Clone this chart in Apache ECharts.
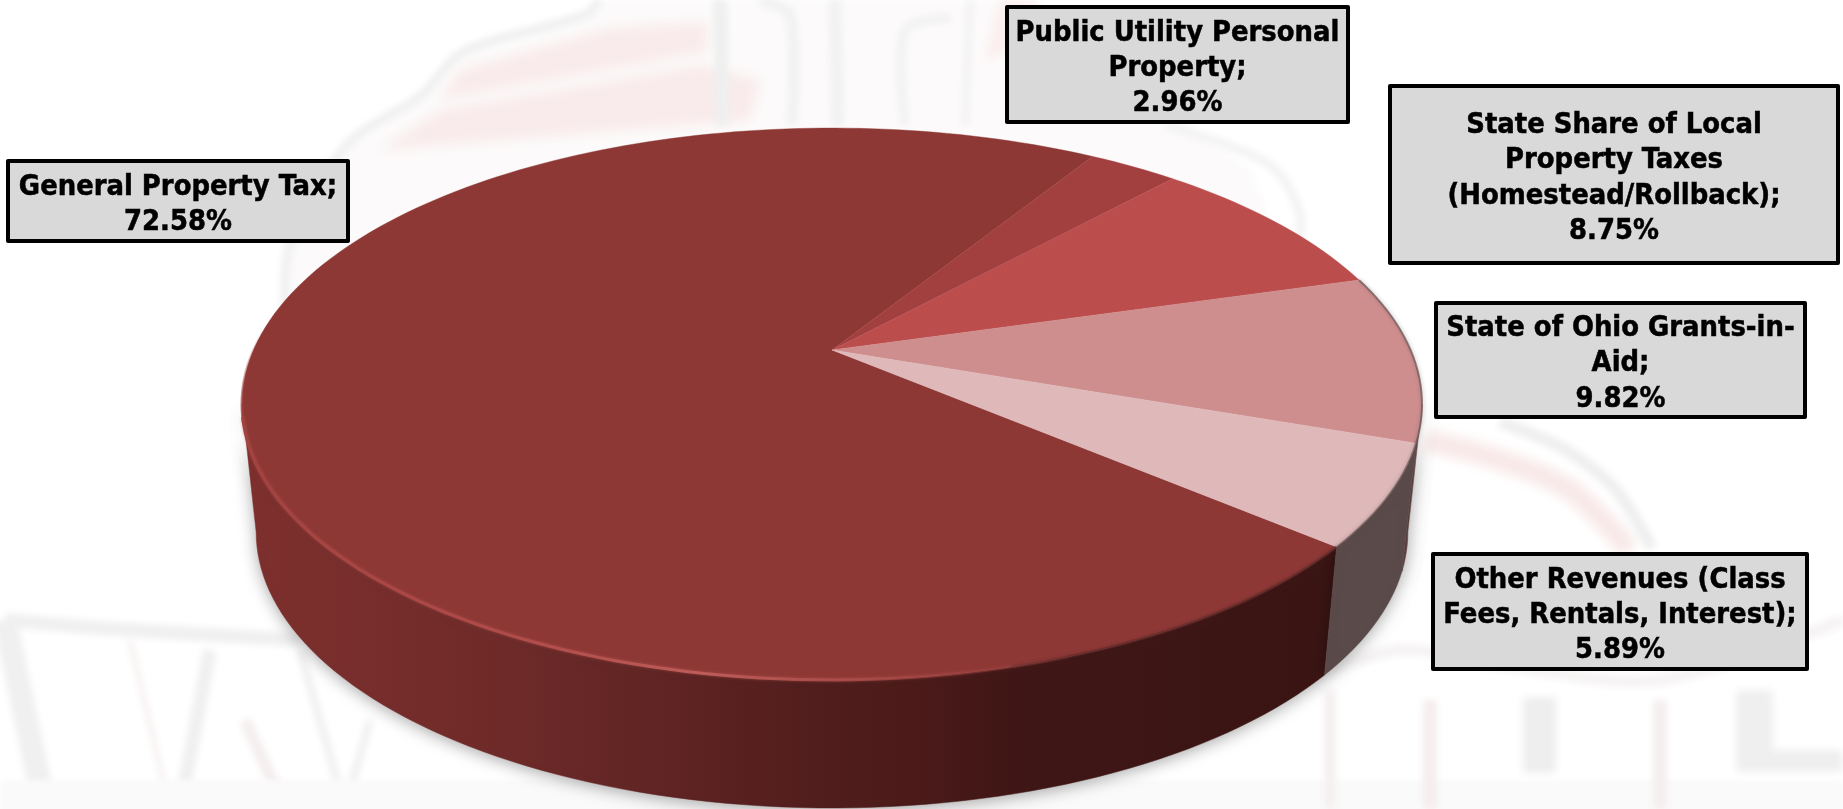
<!DOCTYPE html>
<html>
<head>
<meta charset="utf-8">
<style>html,body{margin:0;padding:0;background:#fff}#c{width:1843px;height:809px}</style>
<script src="https://cdn.jsdelivr.net/npm/echarts@6/dist/echarts.min.js"></script>
</head>
<body>
<div id="c"></div>
<script>
// ---- data ----
const categories = ['General Property Tax', 'Public Utility Personal Property', 'State Share of Local Property Taxes (Homestead/Rollback)', 'State of Ohio Grants-in-Aid', 'Other Revenues (Class Fees, Rentals, Interest)'];
const sharePercent = [72.58, 2.96, 8.75, 9.82, 5.89];
const labelLines = [
  ['General Property Tax;'],
  ['Public Utility Personal', 'Property;'],
  ['State Share of Local', 'Property Taxes', '(Homestead/Rollback);'],
  ['State of Ohio Grants-in-', 'Aid;'],
  ['Other Revenues (Class', 'Fees, Rentals, Interest);']
];

// ---- styling and layout ----
const topColors = ['#8e3836', '#a24040', '#bb4d4c', '#cf8e8e', '#dfb9ba'];
const wallColors = [null, '#6e2c2c', '#7a3434', '#6b4a48', '#5a4b4a'];
const labelBoxes = [
  [6, 159, 344, 84], [1005, 5, 345, 119], [1388, 84, 452, 181], [1434, 301, 373, 118], [1431, 552, 378, 119]
];
const FONT = 'bold 28.8px "DejaVu Sans Condensed","DejaVu Sans",sans-serif';
const START = 40.4, CX = 832, CY = 350, RX = 578.6, RY = 265.4, PERSP = -0.1957, DEPTH = 128, INSET = 0.976;
const TANGENT = Math.asin(-PERSP) * 180 / Math.PI; // angle of the widest point of the rim

function rim(t) {
  const r = t * Math.PI / 180, u = Math.cos(r), v = Math.sin(r), w = 1 + PERSP * v;
  return [CX + RX * u / w, CY + RY * v / w];
}
function floor(t) {
  const p = rim(t);
  return [CX + (p[0] - CX) * INSET, p[1] + DEPTH];
}
function sliceSpan(i) {
  let a = START;
  for (let k = 0; k < i; k++) a += sharePercent[k] * 3.6;
  return [a, a + sharePercent[i] * 3.6];
}
function arc(a0, a1, fn) {
  const n = Math.max(2, Math.ceil((a1 - a0) / 1.5)), out = [];
  for (let k = 0; k <= n; k++) out.push(fn(a0 + (a1 - a0) * k / n));
  return out;
}
function frontPart(s) {
  // part of a slice that lies on the visible front of the wall
  let a = s[0], b = s[1];
  if (a > 270) { a -= 360; b -= 360; }
  a = Math.max(a, TANGENT); b = Math.min(b, 180 - TANGENT);
  return b > a ? [a, b] : null;
}
const wallGrad = new echarts.graphic.LinearGradient(243, 0, 1334, 0, [
  { offset: 0, color: '#7e302e' }, { offset: 0.22, color: '#702b29' }, { offset: 0.37, color: '#612524' },
  { offset: 0.51, color: '#531e1d' }, { offset: 0.62, color: '#4a1a19' }, { offset: 0.72, color: '#3e1615' },
  { offset: 1, color: '#391413' }
], true);
const bevelGrad = new echarts.graphic.LinearGradient(243, 0, 1334, 0, [
  { offset: 0, color: '#a3423f' }, { offset: 0.25, color: '#b04c4a' }, { offset: 0.42, color: '#bd5c59' },
  { offset: 0.58, color: 'rgba(170,75,72,0.8)' }, { offset: 0.78, color: 'rgba(142,56,54,0)' }, { offset: 1, color: 'rgba(142,56,54,0)' }
], true);
const bevelFade = new echarts.graphic.LinearGradient(0, 440, 0, 330, [
  { offset: 0, color: '#a3423f' }, { offset: 1, color: 'rgba(142,56,54,0)' }
], true);

// faint background emblem: only the blurred shadow of each off-canvas shape is seen
const OFF = 3000;
function wm(points, color, blur) {
  return { type: 'polygon', z: -5, silent: true, x: -OFF, shape: { points: points },
    style: { fill: '#000', shadowBlur: blur || 8, shadowColor: color, shadowOffsetX: OFF } };
}
function wl(points, color, width, blur) {
  return { type: 'polyline', z: -5, silent: true, x: -OFF, shape: { points: points, smooth: 0.3 },
    style: { fill: 'none', stroke: '#000', lineWidth: width, shadowBlur: blur || 7, shadowColor: color, shadowOffsetX: OFF } };
}
const G = '#efefef', P = '#f9ebeb';
const watermark = [
  wm([[290, 300], [292, 250], [347, 150], [425, 98], [463, 55], [585, 20], [610, 0], [1000, 0], [1250, 170], [1300, 300]], '#fcfafa', 10),
  wl([[285, 310], [290, 245], [347, 145], [422, 95], [463, 52], [585, 15], [600, 0]], G, 9),
  wm([[610, 28], [707, 22], [707, 52], [440, 100], [460, 70]], P, 12),
  wm([[440, 110], [700, 65], [760, 80], [750, 120], [380, 150]], P, 12),
  wl([[720, 0], [722, 125]], G, 14),
  wl([[760, 0], [790, 15], [792, 125]], '#f1f1f1', 10),
  wl([[835, 0], [838, 125]], '#f1f1f1', 12),
  wl([[905, 125], [905, 30], [950, 18]], '#f1f1f1', 8),
  wl([[965, 125], [970, 0]], '#f1f1f1', 6),
  wm([[1000, 0], [1040, 0], [1010, 50], [985, 60]], '#fbeeee', 10),
  wl([[1165, 125], [1270, 165], [1300, 215], [1295, 260]], '#f3f3f3', 9),
  wl([[1425, 440], [1500, 460], [1570, 490], [1630, 550]], '#f9e9e9', 22, 12),
  wl([[1500, 422], [1566, 450], [1616, 490], [1652, 548]], G, 12),
  wl([[1300, 680], [1400, 650], [1500, 665], [1660, 680], [1843, 620]], '#f6f3f3', 12),
  wl([[5, 620], [100, 628], [300, 640]], '#f0f0f0', 14),
  wl([[5, 620], [45, 809]], '#f0f0f0', 24),
  wl([[130, 640], [170, 809]], '#f5eeee', 5),
  wl([[210, 650], [180, 809]], '#f1f0f0', 14),
  wl([[245, 720], [285, 809]], '#f5eeee', 12),
  wl([[300, 650], [345, 809]], '#f1f0f0', 8),
  wl([[370, 720], [345, 809]], '#f1f0f0', 8),
  wm([[0, 780], [1843, 780], [1843, 820], [0, 820]], '#fafafa', 5),
  wm([[1523, 697], [1556, 697], [1556, 773], [1523, 773]], '#eeeeee'),
  wm([[1736, 690], [1773, 690], [1773, 750], [1843, 750], [1843, 772], [1736, 772]], '#efefef'),
  wl([[1430, 700], [1430, 809]], '#f6eded', 14),
  wl([[1660, 700], [1660, 809]], '#f5eeee', 14),
  wl([[1330, 690], [1330, 809]], '#f5f0f0', 12)
];

const sliceData = sharePercent.map((v, i) => ({ name: categories[i], value: v }));

const option = {
  backgroundColor: '#ffffff',
  animation: false,
  graphic: { elements: watermark },
  series: [
    { // side wall of the disc
      type: 'custom', coordinateSystem: 'none', z: 2, silent: true, data: sliceData,
      renderItem: function (params) {
        const s = frontPart(sliceSpan(params.dataIndex));
        if (!s) return { type: 'group', children: [] };
        const pts = arc(s[0], s[1], rim).concat(arc(s[0], s[1], floor).reverse());
        const fill = wallColors[params.dataIndex] || wallGrad;
        return { type: 'polygon', shape: { points: pts },
          style: { fill: fill, stroke: fill, lineWidth: 0.5, shadowBlur: 16, shadowColor: 'rgba(0,0,0,0.32)', shadowOffsetY: 3 } };
      }
    },
    { // top surface, slices
      type: 'custom', coordinateSystem: 'none', z: 3, silent: true, data: sliceData,
      renderItem: function (params) {
        const s = sliceSpan(params.dataIndex);
        const pts = [[CX, CY]].concat(arc(s[0], s[1], rim));
        const c = topColors[params.dataIndex];
        return { type: 'polygon', shape: { points: pts }, style: { fill: c, stroke: c, lineWidth: 0.4 } };
      }
    },
    { // soft bevel along the rim
      type: 'custom', coordinateSystem: 'none', z: 4, silent: true, data: sliceData,
      renderItem: function (params) {
        const i = params.dataIndex, s = sliceSpan(i);
        if (i === 0) {
          return { type: 'group', children: [
            { type: 'polyline', shape: { points: arc(s[0], s[0] + 35, rim) },
              style: { fill: 'none', stroke: 'rgba(90,40,38,0.55)', lineWidth: 3, shadowBlur: 4, shadowColor: 'rgba(60,20,20,0.5)' } },
            { type: 'polyline', shape: { points: arc(s[0] + 30, 166, rim) },
              style: { fill: 'none', stroke: bevelGrad, lineWidth: 3, shadowBlur: 3, shadowColor: 'rgba(190,90,88,0.5)' } },
            { type: 'polyline', shape: { points: arc(165, 192, rim) },
              style: { fill: 'none', stroke: bevelFade, lineWidth: 3 } }
          ] };
        }
        if (i === 3 || i === 4) {
          return { type: 'polyline', shape: { points: arc(s[0], s[1], rim) },
            style: { fill: 'none', stroke: 'rgba(100,80,80,0.65)', lineWidth: 2, shadowBlur: 4, shadowColor: 'rgba(90,70,70,0.6)' } };
        }
        return { type: 'group', children: [] };
      }
    },
    { // data labels
      type: 'custom', coordinateSystem: 'none', z: 6, silent: true, data: sliceData,
      renderItem: function (params, api) {
        const i = params.dataIndex, b = labelBoxes[i];
        const text = labelLines[i].concat([api.value(0).toFixed(2) + '%']).join('\n');
        return { type: 'group', children: [
          { type: 'rect', shape: { x: b[0] + 2, y: b[1] + 2, width: b[2] - 4, height: b[3] - 4 },
            style: { fill: '#d9d9d9', stroke: '#000', lineWidth: 4, lineJoin: 'round' } },
          { type: 'text', z2: 10, style: { text: text, x: b[0] + b[2] / 2, y: b[1] + b[3] / 2 + 4, textAlign: 'center', textVerticalAlign: 'middle',
            font: FONT, lineHeight: 35.3, fill: '#000', stroke: '#000', lineWidth: 0.5 } }
        ] };
      }
    }
  ]
};
echarts.init(document.getElementById('c')).setOption(option);
</script>
</body>
</html>
